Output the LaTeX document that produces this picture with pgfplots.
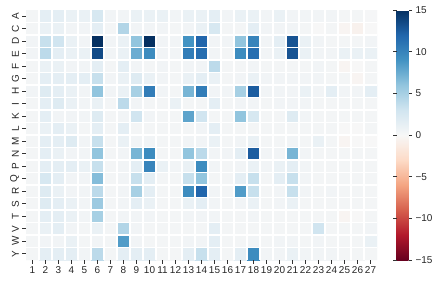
\documentclass[border=0pt]{standalone}
\usepackage{fontspec}
\setmainfont{Liberation Sans}
\usepackage{pgfplots}
\pgfplotsset{compat=1.18}
\begin{document}
\begin{tikzpicture}[x=1bp,y=1bp]
\path[use as bounding box] (0,0) rectangle (440,280);
\begin{axis}[
 at={(26bp,20bp)}, anchor=south west,
 scale only axis, width=351bp, height=250bp,
 xmin=0.5, xmax=27.5, ymin=0.5, ymax=20.5, y dir=reverse,
 axis line style={draw=none},
 xtick={1,...,27}, ytick={1,...,20},
 yticklabels={A,C,D,E,F,G,H,I,K,L,M,N,P,Q,R,S,T,V,W,Y},
 xtick pos=left, ytick pos=left,
 tick align=outside, major tick length=3.5bp,
 tick style={black!80, line width=0.6bp},
 minor xtick={1.5,2.5,...,26.5}, minor ytick={1.5,2.5,...,19.5},
 xminorgrids, yminorgrids, minor tick length=0pt,
 minor grid style={white, line width=1.4bp},
 axis on top,
 colormap={rdbu}{rgb255=(103,0,31) rgb255=(178,24,43) rgb255=(214,96,77) rgb255=(244,165,130) rgb255=(253,219,199) rgb255=(247,247,247) rgb255=(209,229,240) rgb255=(146,197,222) rgb255=(67,147,195) rgb255=(33,102,172) rgb255=(5,48,97)},
 point meta min=-15, point meta max=15,
 ticklabel style={font=\fontsize{10}{12}\selectfont, text=black!85},
 /pgf/number format/assume math mode=true,
 yticklabel style={rotate=90, anchor=south},
 xticklabel style={anchor=north},
 colorbar,
 colorbar style={at={(parent axis.north east)}, anchor=north west, xshift=11bp,
   width=12bp, axis line style={draw=none},
   ytick={-15,-10,-5,0,5,10,15}, yticklabels={−15,−10,−5,0,5,10,15},
   tick align=outside, major tick length=3.5bp,
   tick style={black!80, line width=0.6bp},
   yticklabel style={font=\fontsize{10}{12}\selectfont, text=black!85}},
]
\addplot[matrix plot*, mesh/cols=27, point meta=explicit] coordinates {
(1,1)[0.3] (2,1)[1.5] (3,1)[1.5] (4,1)[1] (5,1)[1] (6,1)[2.5] (7,1)[0.5] (8,1)[0.5] (9,1)[1] (10,1)[1] (11,1)[1] (12,1)[0.5] (13,1)[1] (14,1)[1] (15,1)[1.5] (16,1)[0.5] (17,1)[1] (18,1)[1] (19,1)[0.5] (20,1)[1] (21,1)[0.5] (22,1)[0.5] (23,1)[0.5] (24,1)[0.5] (25,1)[0.3] (26,1)[0.3] (27,1)[0.2]
(1,2)[0.3] (2,2)[1] (3,2)[1] (4,2)[0.5] (5,2)[0.5] (6,2)[1.5] (7,2)[0.3] (8,2)[4.5] (9,2)[0.5] (10,2)[0.5] (11,2)[0.5] (12,2)[0.3] (13,2)[0.5] (14,2)[1] (15,2)[2.5] (16,2)[0.3] (17,2)[0.3] (18,2)[1.5] (19,2)[0.5] (20,2)[0.5] (21,2)[0.5] (22,2)[0.3] (23,2)[0] (24,2)[0.3] (25,2)[-0.3] (26,2)[-0.6] (27,2)[0]
(1,3)[0.5] (2,3)[3.5] (3,3)[3] (4,3)[1] (5,3)[0.5] (6,3)[15] (7,3)[0.5] (8,3)[1] (9,3)[6] (10,3)[15] (11,3)[0.5] (12,3)[0.5] (13,3)[9] (14,3)[12] (15,3)[0.5] (16,3)[0.5] (17,3)[6] (18,3)[10] (19,3)[0.5] (20,3)[1.5] (21,3)[13] (22,3)[1] (23,3)[0.5] (24,3)[0.3] (25,3)[0.3] (26,3)[0.3] (27,3)[0.5]
(1,4)[0.5] (2,4)[4] (3,4)[1.5] (4,4)[1] (5,4)[1] (6,4)[13.5] (7,4)[0.5] (8,4)[1] (9,4)[7.5] (10,4)[9.5] (11,4)[0.5] (12,4)[0.5] (13,4)[10.5] (14,4)[11.5] (15,4)[0.5] (16,4)[0.3] (17,4)[9.5] (18,4)[11.5] (19,4)[0.5] (20,4)[1] (21,4)[13] (22,4)[1] (23,4)[0.5] (24,4)[0.5] (25,4)[1] (26,4)[1] (27,4)[1]
(1,5)[0.3] (2,5)[1] (3,5)[1] (4,5)[0.5] (5,5)[0.5] (6,5)[1.5] (7,5)[0.3] (8,5)[1.5] (9,5)[0.5] (10,5)[0.3] (11,5)[0.5] (12,5)[0.3] (13,5)[0.5] (14,5)[0.5] (15,5)[4] (16,5)[0.3] (17,5)[0.3] (18,5)[0.5] (19,5)[0.3] (20,5)[0.3] (21,5)[0.3] (22,5)[0.3] (23,5)[0.5] (24,5)[0.3] (25,5)[-0.3] (26,5)[0] (27,5)[0.3]
(1,6)[0.3] (2,6)[1.5] (3,6)[1.5] (4,6)[1.5] (5,6)[1.5] (6,6)[3.5] (7,6)[0.5] (8,6)[1] (9,6)[2] (10,6)[1] (11,6)[0.5] (12,6)[0.3] (13,6)[1] (14,6)[1.5] (15,6)[1] (16,6)[0.3] (17,6)[0.5] (18,6)[1] (19,6)[0.5] (20,6)[0.5] (21,6)[0.5] (22,6)[0.5] (23,6)[0.5] (24,6)[0.3] (25,6)[0.3] (26,6)[-0.3] (27,6)[0.3]
(1,7)[0.5] (2,7)[2] (3,7)[1.5] (4,7)[1] (5,7)[0.5] (6,7)[6] (7,7)[0.5] (8,7)[1] (9,7)[5] (10,7)[10.5] (11,7)[0.5] (12,7)[0.3] (13,7)[7] (14,7)[10.5] (15,7)[0.5] (16,7)[0.5] (17,7)[5] (18,7)[12.5] (19,7)[0.5] (20,7)[0.5] (21,7)[0.5] (22,7)[1] (23,7)[0.5] (24,7)[1.5] (25,7)[0.5] (26,7)[0.5] (27,7)[1.5]
(1,8)[0.3] (2,8)[1.5] (3,8)[2] (4,8)[1] (5,8)[0.5] (6,8)[1] (7,8)[0.3] (8,8)[4] (9,8)[0.5] (10,8)[0.3] (11,8)[0.3] (12,8)[1] (13,8)[0.3] (14,8)[0.3] (15,8)[1.5] (16,8)[0.3] (17,8)[0.5] (18,8)[0.5] (19,8)[0.3] (20,8)[0.5] (21,8)[0.5] (22,8)[0.5] (23,8)[0.3] (24,8)[0.3] (25,8)[0.3] (26,8)[0.3] (27,8)[0.3]
(1,9)[0.3] (2,9)[1.5] (3,9)[0.5] (4,9)[0.5] (5,9)[0.5] (6,9)[2] (7,9)[0.3] (8,9)[0.5] (9,9)[3] (10,9)[0.5] (11,9)[0.3] (12,9)[0.3] (13,9)[8] (14,9)[3] (15,9)[0.3] (16,9)[0.3] (17,9)[6] (18,9)[2.5] (19,9)[0.3] (20,9)[0.3] (21,9)[2] (22,9)[0.5] (23,9)[0.3] (24,9)[0.3] (25,9)[0.3] (26,9)[0.3] (27,9)[0.3]
(1,10)[0.3] (2,10)[1] (3,10)[1.5] (4,10)[1] (5,10)[0.3] (6,10)[1.5] (7,10)[0.3] (8,10)[1.5] (9,10)[0.3] (10,10)[0.3] (11,10)[0.3] (12,10)[0.3] (13,10)[0.3] (14,10)[0.5] (15,10)[1.5] (16,10)[0.3] (17,10)[0.3] (18,10)[0.3] (19,10)[0.3] (20,10)[0.3] (21,10)[0.3] (22,10)[0.3] (23,10)[0.3] (24,10)[0.3] (25,10)[0] (26,10)[0] (27,10)[0.3]
(1,11)[0.3] (2,11)[1.5] (3,11)[1.5] (4,11)[2] (5,11)[0.5] (6,11)[3.5] (7,11)[0.3] (8,11)[1] (9,11)[0.5] (10,11)[0.5] (11,11)[0.3] (12,11)[0.3] (13,11)[0.5] (14,11)[0.5] (15,11)[1] (16,11)[0.3] (17,11)[0.5] (18,11)[1] (19,11)[0.3] (20,11)[0.3] (21,11)[0.5] (22,11)[0.3] (23,11)[1] (24,11)[0.3] (25,11)[-0.3] (26,11)[0] (27,11)[0]
(1,12)[0.3] (2,12)[1.5] (3,12)[1] (4,12)[0.5] (5,12)[0.5] (6,12)[6] (7,12)[0.3] (8,12)[0.5] (9,12)[7] (10,12)[9.5] (11,12)[0.3] (12,12)[0.3] (13,12)[6] (14,12)[4] (15,12)[0.5] (16,12)[0.5] (17,12)[1.5] (18,12)[12.5] (19,12)[0.5] (20,12)[0.5] (21,12)[7] (22,12)[0.5] (23,12)[0.3] (24,12)[0.3] (25,12)[0.3] (26,12)[0.3] (27,12)[0.3]
(1,13)[0.3] (2,13)[1.5] (3,13)[1.5] (4,13)[1.5] (5,13)[1] (6,13)[3.5] (7,13)[0.3] (8,13)[0.5] (9,13)[1.5] (10,13)[10] (11,13)[1] (12,13)[0.5] (13,13)[1] (14,13)[9.5] (15,13)[0.5] (16,13)[0.3] (17,13)[0.5] (18,13)[1] (19,13)[0.5] (20,13)[1] (21,13)[1.5] (22,13)[0.5] (23,13)[0.3] (24,13)[0.3] (25,13)[0.3] (26,13)[0.3] (27,13)[0.3]
(1,14)[0.3] (2,14)[2.5] (3,14)[1.5] (4,14)[0.5] (5,14)[0.5] (6,14)[6.5] (7,14)[0.3] (8,14)[0.5] (9,14)[3.5] (10,14)[1.5] (11,14)[0.3] (12,14)[0.3] (13,14)[3.5] (14,14)[6] (15,14)[0.3] (16,14)[0.3] (17,14)[1.5] (18,14)[3.5] (19,14)[0.3] (20,14)[1.5] (21,14)[3.5] (22,14)[0.5] (23,14)[0.3] (24,14)[0.3] (25,14)[0.3] (26,14)[0.3] (27,14)[0.3]
(1,15)[0.3] (2,15)[2] (3,15)[1] (4,15)[0.5] (5,15)[0.5] (6,15)[4] (7,15)[0.3] (8,15)[0.5] (9,15)[5] (10,15)[1.5] (11,15)[0.3] (12,15)[0.3] (13,15)[9.5] (14,15)[12] (15,15)[0.5] (16,15)[0.3] (17,15)[8.5] (18,15)[3.5] (19,15)[0.3] (20,15)[0.5] (21,15)[3.5] (22,15)[0.5] (23,15)[0.3] (24,15)[0.5] (25,15)[0.3] (26,15)[0.3] (27,15)[0.3]
(1,16)[0.3] (2,16)[2] (3,16)[1.5] (4,16)[1] (5,16)[0.5] (6,16)[5.5] (7,16)[0.3] (8,16)[0.5] (9,16)[1.5] (10,16)[1] (11,16)[0.3] (12,16)[0.3] (13,16)[1] (14,16)[1.5] (15,16)[0.5] (16,16)[0.3] (17,16)[0.5] (18,16)[1] (19,16)[0.3] (20,16)[0.5] (21,16)[1] (22,16)[0.3] (23,16)[0.3] (24,16)[0.3] (25,16)[0.3] (26,16)[0.3] (27,16)[0.3]
(1,17)[0.3] (2,17)[1.5] (3,17)[1.5] (4,17)[1] (5,17)[0.5] (6,17)[5] (7,17)[0.3] (8,17)[0.5] (9,17)[0.5] (10,17)[0.5] (11,17)[0.3] (12,17)[0.3] (13,17)[0.5] (14,17)[0.5] (15,17)[0.5] (16,17)[0.3] (17,17)[0.3] (18,17)[0.5] (19,17)[0.3] (20,17)[0.3] (21,17)[0.3] (22,17)[0.3] (23,17)[0.3] (24,17)[0.3] (25,17)[-0.3] (26,17)[0] (27,17)[0.3]
(1,18)[0.3] (2,18)[1] (3,18)[1.5] (4,18)[0.5] (5,18)[0.3] (6,18)[1] (7,18)[0.3] (8,18)[4.5] (9,18)[0.5] (10,18)[0.3] (11,18)[0.3] (12,18)[0.3] (13,18)[0.3] (14,18)[0.3] (15,18)[1.5] (16,18)[0.3] (17,18)[0.3] (18,18)[0.3] (19,18)[0.3] (20,18)[0.3] (21,18)[0.3] (22,18)[0.3] (23,18)[3] (24,18)[0.3] (25,18)[0.3] (26,18)[0.3] (27,18)[0.5]
(1,19)[0.3] (2,19)[0.5] (3,19)[0.5] (4,19)[1] (5,19)[0.3] (6,19)[0.5] (7,19)[0.3] (8,19)[8.5] (9,19)[0.5] (10,19)[0.3] (11,19)[0.3] (12,19)[0.3] (13,19)[0.5] (14,19)[0.5] (15,19)[1.5] (16,19)[0.3] (17,19)[0.3] (18,19)[0.5] (19,19)[0.3] (20,19)[0.5] (21,19)[0.5] (22,19)[0.3] (23,19)[0.5] (24,19)[0.3] (25,19)[0.3] (26,19)[0.3] (27,19)[1]
(1,20)[0.3] (2,20)[1.5] (3,20)[1.5] (4,20)[1.5] (5,20)[0.5] (6,20)[4] (7,20)[0.3] (8,20)[1.5] (9,20)[1.5] (10,20)[1.5] (11,20)[0.3] (12,20)[0.3] (13,20)[1.5] (14,20)[3.5] (15,20)[1.5] (16,20)[0.3] (17,20)[1.5] (18,20)[9.5] (19,20)[0.5] (20,20)[0.5] (21,20)[1] (22,20)[0.5] (23,20)[0.5] (24,20)[0.5] (25,20)[0.3] (26,20)[0.3] (27,20)[0.3]
};
\end{axis}
\end{tikzpicture}
\end{document}
